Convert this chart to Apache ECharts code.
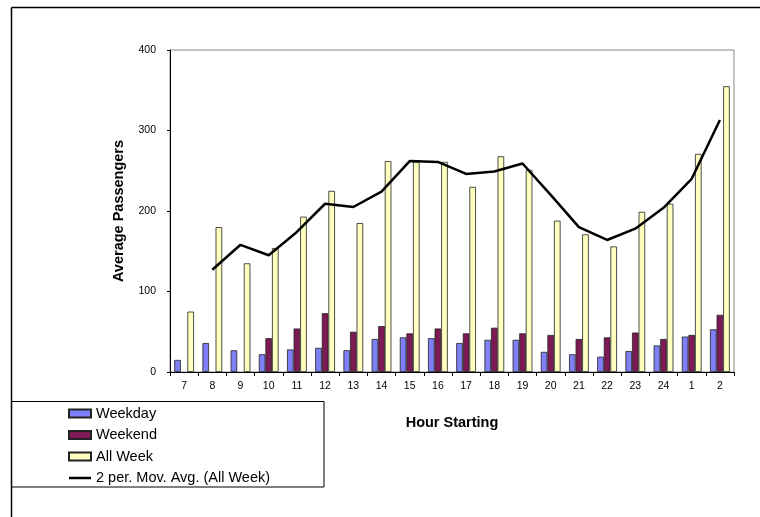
<!DOCTYPE html>
<html>
<head>
<meta charset="utf-8">
<script src="https://cdn.jsdelivr.net/npm/echarts@6/dist/echarts.min.js"></script>
<style>
html,body{margin:0;padding:0;background:#fff;}
#chart{width:760px;height:517px;}
</style>
</head>
<body>
<div id="chart"></div>
<script>
var hours = ['7','8','9','10','11','12','13','14','15','16','17','18','19','20','21','22','23','24','1','2'];
var weekday = [15,36,27,22,28,30,27,41,43,42,36,40,40,25,22,19,26,33,44,53];
var weekend = [null,null,null,42,54,73,50,57,48,54,48,55,48,46,41,43,49,41,46,71];
var allWeek = [75,180,135,154,193,225,185,262,261,261,230,268,251,188,171,156,199,209,271,355];
var movAvg = [null,127,158,145,174,209,205,224,262,261,246,249,259,220,180,164,178,204,240,313];

var FONT = 'Liberation Sans, Arial, sans-serif';
var LINE_ICON = 'path://M0,2.8L22,2.8L22,5.2L0,5.2Z M0,0L0.01,0L0.01,0.01Z M22,8L21.99,8L21.99,7.99Z';
var chart = echarts.init(document.getElementById('chart'), null, {renderer:'canvas'});
chart.setOption({
  animation: false,
  backgroundColor: '#fff',
  textStyle: {fontFamily: FONT},
  grid: {left:170, top:50, right:26, bottom:145, show:true, borderColor:'#888', borderWidth:1, backgroundColor:'transparent'},
  legend: {
    orient:'vertical', left:68, top:406, padding:0, itemWidth:22, itemHeight:8, itemGap:6.5,
    textStyle:{fontFamily:FONT, fontSize:14.5, color:'#000', lineHeight:14},
    data:[
      {name:'Weekday', icon:'rect'},
      {name:'Weekend', icon:'rect'},
      {name:'All Week', icon:'rect'},
      {name:'2 per. Mov. Avg. (All Week)', icon:LINE_ICON, itemStyle:{color:'#000', borderWidth:0}}
    ]
  },
  xAxis: {
    type:'category', data:hours,
    name:'Hour Starting', nameLocation:'middle', nameGap:43,
    nameTextStyle:{fontFamily:FONT, fontWeight:'bold', fontSize:14.5, color:'#000'},
    axisLine:{lineStyle:{color:'#000', width:1}},
    axisTick:{show:true, interval:0, length:4, lineStyle:{color:'#000'}},
    axisLabel:{interval:0, margin:9, fontFamily:FONT, fontSize:10.5, color:'#000'}
  },
  yAxis: {
    type:'value', min:0, max:400, interval:100,
    name:'Average Passengers', nameLocation:'middle', nameGap:44,
    nameTextStyle:{fontFamily:FONT, fontWeight:'bold', fontSize:14.5, color:'#000'},
    axisLine:{show:true, lineStyle:{color:'#000', width:1}},
    axisTick:{show:true, length:3, lineStyle:{color:'#000'}},
    splitLine:{show:false},
    axisLabel:{margin:14, fontFamily:FONT, fontSize:10.5, color:'#000'}
  },
  series: [
    {name:'Weekday', type:'bar', data:weekday, barGap:'0%', barCategoryGap:'30%',
     itemStyle:{color:'#7f7ff8', borderColor:'#222', borderWidth:0.8}},
    {name:'Weekend', type:'bar', data:weekend, barGap:'0%', barCategoryGap:'30%',
     itemStyle:{color:'#7d1a55', borderColor:'#222', borderWidth:0.8}},
    {name:'All Week', type:'bar', data:allWeek, barGap:'0%', barCategoryGap:'30%',
     itemStyle:{color:'#ffffc0', borderColor:'#222', borderWidth:0.8}},
    {name:'2 per. Mov. Avg. (All Week)', type:'line', data:movAvg, symbol:'none', z:5,
     lineStyle:{color:'#000', width:2.5}, itemStyle:{color:'#000'}}
  ],
  graphic: [
    {type:'line', shape:{x1:11.5, y1:7.5, x2:760, y2:7.5}, style:{stroke:'#000', lineWidth:1.5}},
    {type:'line', shape:{x1:11.5, y1:7.5, x2:11.5, y2:517}, style:{stroke:'#000', lineWidth:1.5}},
    {type:'rect', shape:{x:11.5, y:401.5, width:312.5, height:85.5}, style:{fill:'none', stroke:'#000', lineWidth:1}}
  ]
});
</script>
</body>
</html>
